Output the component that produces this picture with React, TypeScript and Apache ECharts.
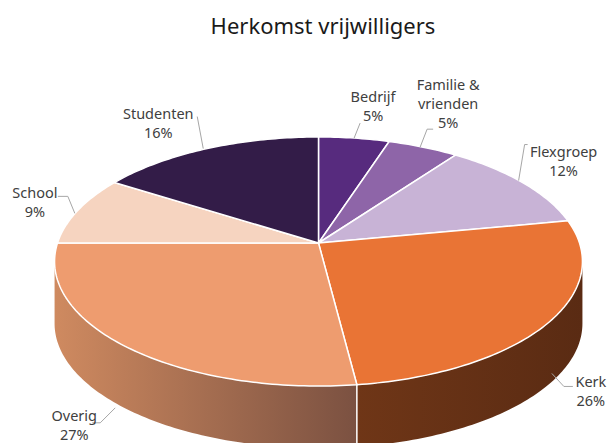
import React, { useEffect, useRef } from "react";
import * as echarts from "echarts";

// ---- data ----
const categories = ["Bedrijf", "Familie &\nvrienden", "Flexgroep", "Kerk", "Overig", "School", "Studenten"];
const values = [5, 5, 12, 26, 27, 9, 16];
const titleText = "Herkomst vrijwilligers";

// ---- styles ----
const topColors = ["#572b7e", "#8e65a8", "#c8b3d6", "#e97435", "#ee9c6f", "#f6d4c0", "#331c48"];
const wallColors = [
  ["#3e1d5c", "#2f1646"],
  ["#654978", "#4e385d"],
  ["#8e7f98", "#7a6c84"],
  ["#6f3617", "#5a2b13"],
  ["#cf8a60", "#7b5141"],
  ["#ad9484", "#8c7567"],
  ["#241433", "#1b0f26"],
];

// ---- layout (pixel geometry of the projected disc) ----
const CX = 318.5;
const CY = 243;
const RX = 261;
const RY = 121.8;
const K = 0.1486; // perspective strength
const H = 62; // wall thickness
const WALL_LABEL_DROP = 52;
const FONT = "'Noto Sans', 'Open Sans', sans-serif";

// label offsets relative to each slice's anchor point
const labelLayout = [
  { text: [19, -33], line: [[6, -15], [6, -15], [0, 0]] },
  { text: [25, -44], line: [[10, -18], [4, -18], [-3, 0]] },
  { text: [41, -22], line: [[5, -38], [2, -38], [-4, -2]] },
  { text: [41, 17], line: [[23, 13], [14, 13], [2, 0]] },
  { text: [-50, 27], line: [[-32, 25], [-24, 25], [-9, 10]] },
  { text: [-43, -9], line: [[-20, -14], [-10, -14], [-3, 3]] },
  { text: [-49, -26], line: [[-10, -32], [-10, -32], [-4, 0]] },
];

function proj(theta: number, drop: number): number[] {
  const u = Math.sin(theta);
  const v = -Math.cos(theta);
  const s = 1 / (1 - K * v);
  return [CX + RX * u * s, CY + RY * v * s + drop];
}

function arc(a0: number, a1: number, drop: number): number[][] {
  const steps = Math.max(2, Math.ceil(Math.abs(a1 - a0) / (Math.PI / 180)));
  const pts: number[][] = [];
  for (let j = 0; j <= steps; j++) pts.push(proj(a0 + ((a1 - a0) * j) / steps, drop));
  return pts;
}

export default function App() {
  const ref = useRef<HTMLDivElement>(null);
  useEffect(() => {
    if (!ref.current) return;
    const chart = echarts.init(ref.current, null, { renderer: "svg" });
    const total = values.reduce((a, b) => a + b, 0);
    const visStart = Math.acos(-K);
    const visEnd = 2 * Math.PI - visStart;

    const renderItem = (params: any, api: any) => {
      const i = params.dataIndex;
      const before = values.slice(0, i).reduce((a, b) => a + b, 0);
      const v = api.value(0);
      const a0 = (before / total) * 2 * Math.PI;
      const a1 = ((before + v) / total) * 2 * Math.PI;
      const children: any[] = [];

      // top face
      const topPts = [[CX, CY], ...arc(a0, a1, 0)];
      children.push({
        type: "polygon",
        z2: 10,
        shape: { points: topPts },
        style: { fill: topColors[i], stroke: "#ffffff", lineWidth: 1.5, lineJoin: "round" },
      });

      // outer wall (only visible front part)
      const w0 = Math.max(a0, visStart);
      const w1 = Math.min(a1, visEnd);
      if (w1 > w0) {
        const pts = [...arc(w0, w1, 0), ...arc(w1, w0, H)];
        children.push({
          type: "polygon",
          z2: 1,
          shape: { points: pts },
          style: {
            fill: new echarts.graphic.LinearGradient(0, 0, 1, 0, [
              { offset: 0, color: wallColors[i][0] },
              { offset: 1, color: wallColors[i][1] },
            ]),
          },
        });
        if (a0 > visStart && a0 < visEnd) {
          const p = proj(a0, 0);
          const q = proj(a0, H);
          children.push({
            type: "line",
            z2: 2,
            shape: { x1: p[0], y1: p[1], x2: q[0], y2: q[1] },
            style: { stroke: "#ffffff", lineWidth: 1.5 },
          });
        }
      }

      // label
      const mid = (a0 + a1) / 2;
      const front = mid > visStart && mid < visEnd;
      const anchor = proj(mid, front ? WALL_LABEL_DROP : 0);
      const lay = labelLayout[i];
      children.push({
        type: "polyline",
        z2: 20,
        shape: { points: lay.line.map((p) => [anchor[0] + p[0], anchor[1] + p[1]]) },
        style: { stroke: "#a6a6a6", lineWidth: 1, fill: null },
      });
      const pct = Math.round((v / total) * 100) + "%";
      children.push({
        type: "text",
        z2: 20,
        style: {
          text: categories[i] + "\n" + pct,
          x: anchor[0] + lay.text[0],
          y: anchor[1] + lay.text[1],
          align: "center",
          verticalAlign: "middle",
          fill: "#404040",
          fontSize: 14.5,
          lineHeight: 19,
          fontFamily: FONT,
        },
      });
      return { type: "group", children };
    };

    chart.setOption({
      animation: false,
      backgroundColor: "#ffffff",
      title: {
        text: titleText,
        left: 318,
        top: 9,
        textAlign: "center",
        textStyle: { fontSize: 22, fontWeight: "normal", color: "#1a1a1a", fontFamily: FONT },
      },
      series: [
        {
          type: "custom",
          coordinateSystem: "none",
          silent: true,
          renderItem,
          data: values.map((v, i) => ({ value: v, name: categories[i] })),
        },
      ],
    });
    return () => chart.dispose();
  }, []);
  return <div ref={ref} style={{ position: "fixed", left: 0, top: 0, width: 610, height: 443 }} />;
}
